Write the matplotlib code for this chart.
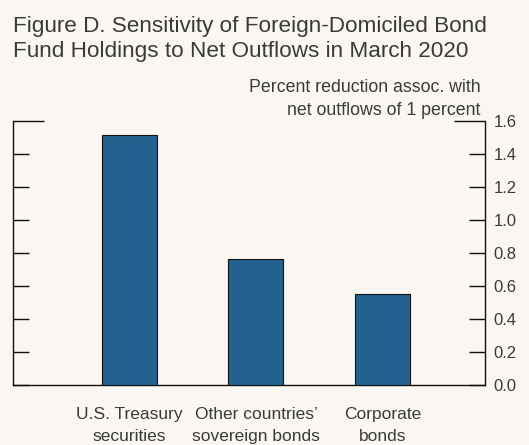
import numpy as np
import matplotlib.pyplot as plt
from matplotlib.ticker import FixedLocator, FixedFormatter

plt.rcParams['font.family'] = ['Liberation Sans', 'DejaVu Sans']

categories = ["U.S. Treasury\nsecurities", "Other countries\u2019\nsovereign bonds", "Corporate\nbonds"]
values = [1.515, 0.766, 0.55]
yticks = [0.0, 0.2, 0.4, 0.6, 0.8, 1.0, 1.2, 1.4]
ytop = 1.6

bg = "#faf7f2"
txt = "#3a3a3a"
bar_color = "#23628f"

fig = plt.figure(figsize=(5.29, 4.45), dpi=100, facecolor=bg)
ax = fig.add_axes([0.0246, 0.1348, 0.8922, 0.5933], facecolor=bg)

x = np.arange(len(values))
ax.bar(x, values, width=0.435, color=bar_color, edgecolor="#111111", linewidth=0.8, zorder=3)

ax.set_xlim(-0.92, 2.81)
ax.set_ylim(0, ytop)

# y axis: ticks on both sides, labels on right; top tick is longer
ax.yaxis.set_major_locator(FixedLocator(yticks))
ax.yaxis.set_minor_locator(FixedLocator([ytop]))
ax.yaxis.set_major_formatter(FixedFormatter([f"{v:.1f}" for v in yticks]))
ax.yaxis.set_minor_formatter(FixedFormatter([f"{ytop:.1f}"]))
ax.tick_params(axis="y", which="major", direction="in", length=11.5, width=1.0,
               left=True, right=True, labelleft=False, labelright=True,
               labelsize=12, labelcolor=txt, pad=6, color="#111111")
ax.tick_params(axis="y", which="minor", direction="in", length=22, width=1.0,
               left=True, right=True, labelleft=False, labelright=True,
               labelsize=12, labelcolor=txt, pad=6, color="#111111")

ax.set_xticks(x)
ax.set_xticklabels(categories, linespacing=1.6)
ax.tick_params(axis="x", length=0, labelsize=12.5, labelcolor=txt, pad=16)

ax.spines["top"].set_visible(False)
for s in ["left", "right", "bottom"]:
    ax.spines[s].set_linewidth(1.0)
    ax.spines[s].set_color("#111111")

fig.text(0.0246, 0.965, "Figure D. Sensitivity of Foreign-Domiciled Bond\nFund Holdings to Net Outflows in March 2020",
         ha="left", va="top", fontsize=16.2, color=txt, linespacing=1.28)
fig.text(0.908, 0.823, "Percent reduction assoc. with\nnet outflows of 1 percent",
         ha="right", va="top", fontsize=12.8, color=txt, linespacing=1.45)

fig.savefig("out.png", dpi=100, facecolor=bg)
